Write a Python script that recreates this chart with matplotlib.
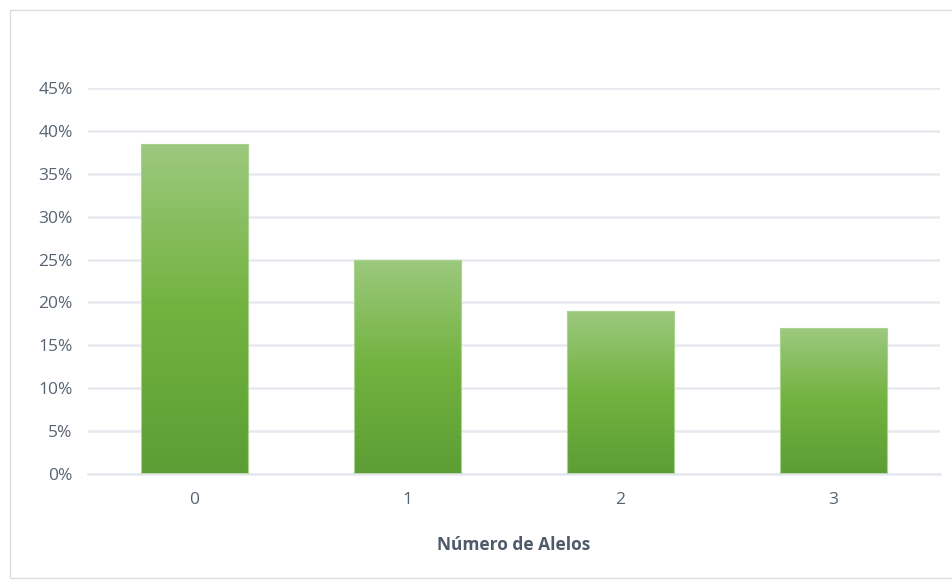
import matplotlib.pyplot as plt
import matplotlib.colors as mcolors
import numpy as np
from matplotlib.patches import Rectangle

# data
categorias = ['0', '1', '2', '3']
porcentajes = [0.385, 0.25, 0.19, 0.17]
y_ticks = [0, 0.05, 0.10, 0.15, 0.20, 0.25, 0.30, 0.35, 0.40, 0.45]

plt.rcParams['font.family'] = ['Open Sans', 'DejaVu Sans']

fig = plt.figure(figsize=(9.52, 5.8), dpi=100)
fig.patches.append(Rectangle((10 / 952, 2 / 580), 960 / 952, 568 / 580,
                             transform=fig.transFigure, fill=False,
                             edgecolor='#dcdcdc', linewidth=1))

ax = fig.add_axes([88 / 952, 1 - 474 / 580, (940 - 88) / 952, (474 - 88) / 580])

x = np.arange(len(categorias))
width = 0.5

# vertical gradient: light on top, darker at the bottom
cmap = mcolors.LinearSegmentedColormap.from_list(
    'verde', ['#5c9e35', '#72b23f', '#9cc97e'])
grad = np.linspace(0, 1, 256).reshape(-1, 1)

bars = ax.bar(x, porcentajes, width=width, color='none',
              edgecolor='#a9d38e', linewidth=0.8, zorder=3)
for b in bars:
    x0, y0 = b.get_x(), b.get_y()
    w, h = b.get_width(), b.get_height()
    im = ax.imshow(grad, cmap=cmap, origin='lower', aspect='auto',
                   extent=(x0, x0 + w, y0, y0 + h), zorder=2)
    im.set_clip_path(b)

ax.set_xlim(-0.5, len(categorias) - 0.5)
ax.set_ylim(0, 0.45)
ax.set_yticks(y_ticks)
ax.set_yticklabels([f'{int(round(t * 100))}%' for t in y_ticks])
ax.set_xticks(x)
ax.set_xticklabels(categorias)

ax.grid(axis='y', color='#e6e9ef', linewidth=1.8, zorder=0)
ax.set_axisbelow(True)
for s in ['top', 'right', 'left']:
    ax.spines[s].set_visible(False)
ax.spines['bottom'].set_color('#e6e9ef')
ax.spines['bottom'].set_linewidth(1.8)
ax.tick_params(length=0, colors='#596473', labelsize=12.5)
ax.tick_params(axis='y', pad=11)
ax.tick_params(axis='x', pad=13)

ax.set_xlabel('Número de Alelos', fontsize=12.5, fontweight='bold',
              color='#4e5a6a', labelpad=20)

fig.savefig('out.png', dpi=100)
